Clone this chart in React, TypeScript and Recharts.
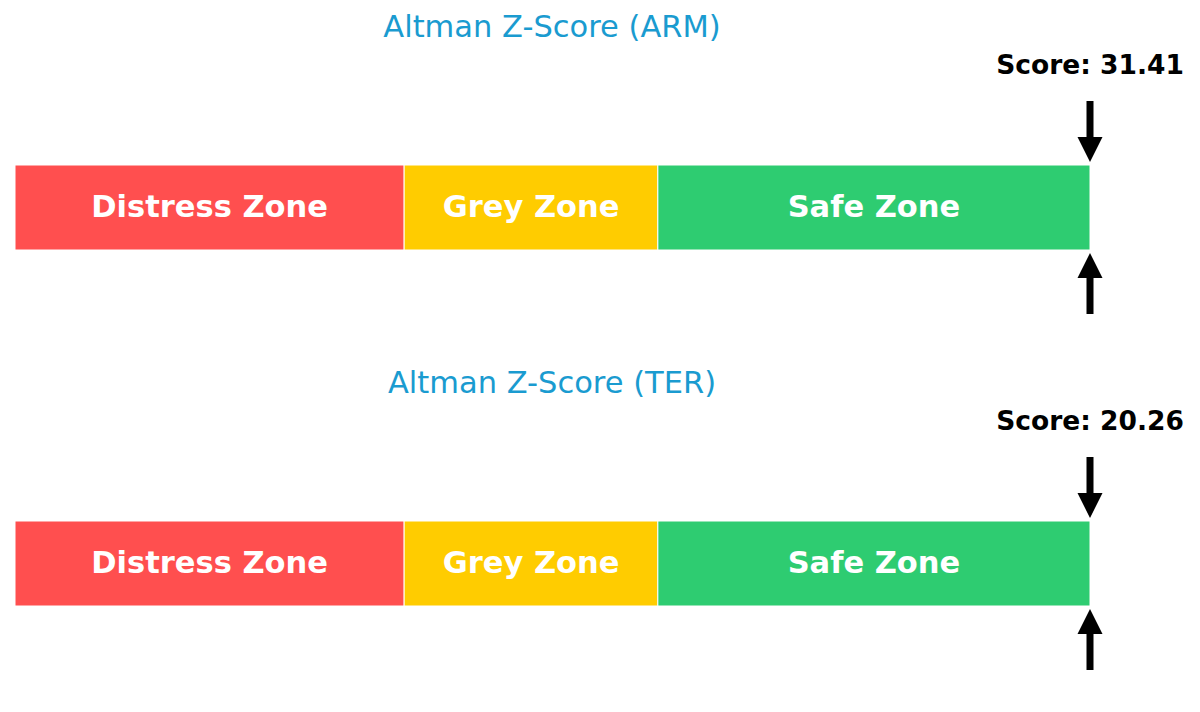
import React from 'react';
import { BarChart, Bar, XAxis, YAxis, ReferenceDot, LabelList } from 'recharts';

// Altman Z-Score gauges
const companies = ['ARM', 'TER'];
const scores = [31.41, 20.26];
const zoneKeys = ['distress', 'grey', 'safe'];
const zoneNames = ['Distress Zone', 'Grey Zone', 'Safe Zone'];
const zoneWidths = [1.81, 1.18, 2.01]; // <1.81 distress, 1.81-2.99 grey, 2.99-5 safe
const zoneColors = ['#ff4f4f', '#ffcc00', '#2ecc71'];
const axisMax = 5;

const W = 1200;
const H = 356;
const BAR_TOP = 165;
const BAR_BOTTOM = 250;
const FONT = '"DejaVu Sans", Verdana, sans-serif';

const ScoreMarker = ({ cx, cy, score }: { cx: number; cy: number; score: number }) => {
  const half = (BAR_BOTTOM - BAR_TOP) / 2;
  const tip = half + 3;
  const head = 25;
  const end = 106.5;
  const sw = 3.5;
  const hw = 12.5;
  const down = `M${cx - sw},${cy - end} L${cx + sw},${cy - end} L${cx + sw},${cy - tip - head} L${cx + hw},${cy - tip - head} L${cx},${cy - tip} L${cx - hw},${cy - tip - head} L${cx - sw},${cy - tip - head} Z`;
  const up = `M${cx - sw},${cy + end} L${cx + sw},${cy + end} L${cx + sw},${cy + tip + head} L${cx + hw},${cy + tip + head} L${cx},${cy + tip} L${cx - hw},${cy + tip + head} L${cx - sw},${cy + tip + head} Z`;
  return (
    <g>
      <path d={down} fill="#000" />
      <path d={up} fill="#000" />
      <text x={cx} y={cy - 133.5} textAnchor="middle" fontSize={26.5} fontWeight="bold" fontFamily={FONT} fill="#000">
        {`Score: ${score.toFixed(2)}`}
      </text>
    </g>
  );
};

const Gauge = ({ company, score }: { company: string; score: number }) => {
  const row: Record<string, any> = { name: company };
  zoneKeys.forEach((k, i) => (row[k] = zoneWidths[i]));
  const data = [row];
  const marker = Math.min(score, axisMax);

  return (
    <BarChart
      width={W}
      height={H}
      data={data}
      layout="vertical"
      barCategoryGap={0}
      margin={{ top: BAR_TOP, right: 110, bottom: H - BAR_BOTTOM, left: 15 }}
    >
      <XAxis type="number" domain={[0, axisMax]} hide />
      <YAxis type="category" dataKey="name" hide />
      {zoneKeys.map((k, i) => (
        <Bar key={k} dataKey={k} stackId="z" fill={zoneColors[i]} stroke="#fff" strokeWidth={1} isAnimationActive={false}>
          <LabelList
            dataKey={k}
            content={(p: any) => (
              <text
                x={p.x + p.width / 2}
                y={p.y + p.height / 2 + 9}
                textAnchor="middle"
                fill="#fff"
                fontSize={30.5}
                fontWeight="bold"
                fontFamily={FONT}
              >
                {zoneNames[i]}
              </text>
            )}
          />
        </Bar>
      ))}
      <ReferenceDot
        x={marker}
        y={company}
        ifOverflow="visible"
        shape={(p: any) => <ScoreMarker cx={p.cx} cy={p.cy} score={score} />}
      />
      <text x={552} y={37} textAnchor="middle" fill="#1a9bd0" fontSize={30.5} fontFamily={FONT}>
        {`Altman Z-Score (${company})`}
      </text>
    </BarChart>
  );
};

export default function App() {
  return (
    <div style={{ position: 'absolute', top: 0, left: 0, width: W, height: H * 2, background: '#fff' }}>
      {companies.map((c, i) => (
        <Gauge key={c} company={c} score={scores[i]} />
      ))}
    </div>
  );
}
